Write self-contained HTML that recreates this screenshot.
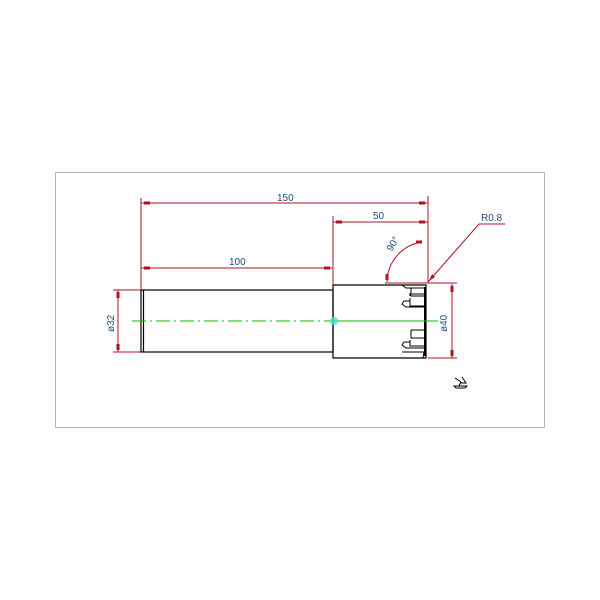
<!DOCTYPE html>
<html><head><style>body{margin:0;background:#fff}svg{display:block}</style></head><body>
<svg width="600" height="600" viewBox="0 0 600 600" xmlns="http://www.w3.org/2000/svg" font-family="Liberation Sans, sans-serif">
<rect x="55.5" y="172.5" width="489" height="255" fill="#fff" stroke="#b4b4b4" stroke-width="1"/>
<g stroke="#b01020" stroke-width="1" fill="none">
<line x1="141" y1="198" x2="141" y2="290"/>
<line x1="428" y1="196" x2="428" y2="283"/>
<line x1="333" y1="216" x2="333" y2="285"/>
<line x1="141" y1="203" x2="428" y2="203"/>
<line x1="333" y1="222" x2="428" y2="222"/>
<line x1="141" y1="268" x2="333" y2="268"/>
<line x1="113" y1="290" x2="141" y2="290"/>
<line x1="113" y1="352" x2="141" y2="352"/>
<line x1="118" y1="290" x2="118" y2="352"/>
<line x1="385" y1="283" x2="457" y2="283"/>
<line x1="428" y1="358" x2="457" y2="358"/>
<line x1="452" y1="284" x2="452" y2="358"/>
<path d="M387 282 A41 41 0 0 1 422 242"/>
<polyline points="428,282 479,224 505,224"/>
</g>
<g fill="#b01020">
<rect x="144" y="201.5" width="6" height="3"/><rect x="419" y="201.5" width="6" height="3"/>
<rect x="336" y="220.5" width="6" height="3"/><rect x="419" y="220.5" width="6" height="3"/>
<rect x="144" y="266.5" width="6" height="3"/><rect x="324" y="266.5" width="6" height="3"/>
<rect x="116.5" y="292" width="3" height="6"/><rect x="116.5" y="344" width="3" height="6"/>
<rect x="450.5" y="286" width="3" height="6"/><rect x="450.5" y="350" width="3" height="6"/>
<rect x="416" y="240.5" width="6" height="3"/><rect x="385.5" y="274" width="3" height="6"/>
<polygon points="429,281 432,274 435,277"/>
</g>
<g fill="#1a4f80" font-size="10">
<text x="277" y="201">150</text>
<text x="373" y="219">50</text>
<text x="229" y="265">100</text>
<text x="481" y="221">R0.8</text>
<text transform="translate(392,252) rotate(-60)">90°</text>
<text transform="translate(114,332) rotate(-90)">ø32</text>
<text transform="translate(447,332) rotate(-90)">ø40</text>
</g>
<g stroke="#000" stroke-width="1.2" fill="none">
<rect x="141" y="290" width="192" height="62"/>
<line x1="143.5" y1="290" x2="143.5" y2="352"/>
<polyline points="333,285 426,285 426,358 333,358 333,285"/>
<path d="M402 285 l4 3 h18 M411 288 v8 h13 M410 296 v-3 M412 294 h12 M410 298 v8 h14 M410 301 h-6 l-2 3 l4 3 h18" stroke-width="1"/>
<path d="M411 330 h13 M411 330 v8 h13 M410 340 v6 h14 M410 342 h-6 l-2 3 l4 3 h18 M402 352 h22 l-1 6" stroke-width="1"/>
<line x1="425" y1="287" x2="425" y2="356" stroke-width="2"/>
</g>
<line x1="132" y1="321" x2="333" y2="321" stroke="#00c000" stroke-dasharray="14,4,2,4"/>
<line x1="333" y1="321" x2="438" y2="321" stroke="#00c000"/>
<circle cx="334" cy="321" r="4" fill="#40e0d0" opacity="0.8"/>
<g stroke="#000" stroke-width="1" fill="none">
<path d="M455 378 l6 4 l-2 4 M462 377 l4 6 h-6 M454 386 h13 l-2 2 h-9 z"/>
</g>
</svg>
</body></html>
